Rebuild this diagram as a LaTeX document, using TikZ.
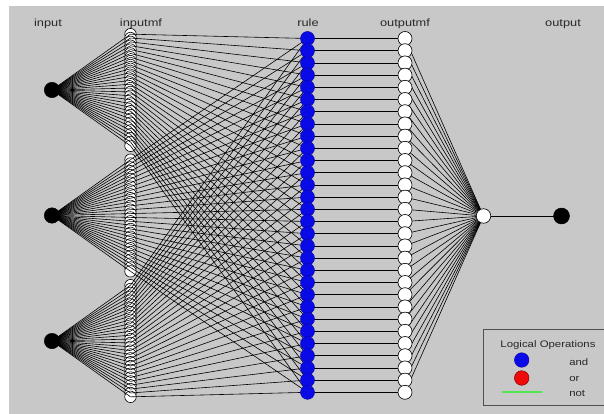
\documentclass[tikz,border=0pt]{standalone}
\usepackage{fontspec}
\setmainfont{Liberation Sans}
\pgfdeclarelayer{back}
\pgfdeclarelayer{bg}
\pgfsetlayers{back,bg,main}
\definecolor{figgray}{RGB}{200,200,200}
\definecolor{ruleblue}{RGB}{10,10,230}
\definecolor{legred}{RGB}{240,10,10}
\definecolor{leggreen}{RGB}{80,230,80}
\definecolor{textgray}{RGB}{40,40,40}
\definecolor{legedge}{RGB}{80,80,80}
\begin{document}
\begin{tikzpicture}[x=1pt,y=-1pt,
  lnk/.style={line width=0.6pt, black},
  blackdot/.style={circle, fill=black, draw=black, inner sep=0pt, minimum size=15.5pt},
  mfdot/.style={circle, fill=white, draw=black, line width=0.6pt, inner sep=0pt, minimum size=11.5pt},
  ruledot/.style={circle, fill=ruleblue, draw=ruleblue!75!black, line width=0.5pt, inner sep=0pt, minimum size=14pt},
  ordot/.style={circle, fill=legred, draw=legred!60!black, line width=0.6pt, inner sep=0pt, minimum size=14pt},
  outdot/.style={circle, fill=white, draw=black, line width=0.6pt, inner sep=0pt, minimum size=14pt},
  lbl/.style={font=\fontsize{10.5}{12}\selectfont, xscale=1.22, text=textgray, anchor=base, inner sep=0pt},
  leglbl/.style={font=\fontsize{9.5}{11}\selectfont, xscale=1.2, text=textgray, anchor=base, inner sep=0pt},
]
\useasboundingbox (0,0) rectangle (604,414);
\begin{pgfonlayer}{back}
  \fill[white] (0,0) rectangle (604,414);
  \fill[figgray] (8.5,6.5) rectangle (604,414);
\end{pgfonlayer}

% input nodes
\foreach \g/\c in {1/90,2/215.5,3/341} {
  \node[blackdot] (in\g) at (52,\c) {};
}
% rules and output mfs
\foreach \r in {1,...,30} {
  \node[ruledot] (r\r) at (307.5,{38.5+(\r-1)*12.2}) {};
  \node[outdot] (omf\r) at (405,{38.5+(\r-1)*12.2}) {};
}
\node[outdot, minimum size=14.5pt] (outn) at (483.5,216) {};
\node[blackdot, minimum size=16pt] (outp) at (561.5,216) {};

\begin{pgfonlayer}{bg}
  % input membership functions
  \foreach \g/\c in {1/90,2/215.5,3/341} {
    \foreach \j in {1,...,30} {
      \node[mfdot] (mf\g-\j) at (130.5,{\c+(\j-15.5)*3.85}) {};
    }
  }
  \foreach \g in {1,2,3} {
    \foreach \j in {1,...,30} {
      \draw[lnk] (in\g.center) -- (mf\g-\j.center);
      \draw[lnk] (mf\g-\j.center) -- (r\j.center);
    }
  }
  \foreach \r in {1,...,30} {
    \draw[lnk] (r\r.center) -- (omf\r.center);
    \draw[lnk] (omf\r.center) -- (outn.center);
  }
  \draw[lnk] (outn.center) -- (outp.center);
\end{pgfonlayer}

% headings
\node[lbl] (tin) at (48,27) {input};
\node[lbl] (tinmf) at (141,27) {inputmf};
\node[lbl] (trule) at (308,27) {rule};
\node[lbl] (toutmf) at (405,27) {outputmf};
\node[lbl] (tout) at (563,27) {output};

% legend
\draw[draw=legedge, fill=figgray, line width=0.8pt] (483,329) rectangle (605,405);
\node[leglbl] (lgtitle) at (548,347) {Logical Operations};
\node[ruledot, minimum size=14.5pt] (lgand) at (521.7,360) {};
\node[ordot, minimum size=14.5pt] (lgor) at (521.7,378) {};
\coordinate (lgn1) at (502,391.7);
\coordinate (lgn2) at (541.7,391.7);
\draw[draw=leggreen, line width=1.6pt] (lgn1) -- (lgn2);
\node[leglbl, anchor=base west] (tand) at (569,365) {and};
\node[leglbl, anchor=base west] (tor) at (569,381.5) {or};
\node[leglbl, anchor=base west] (tnot) at (569,396.5) {not};
\end{tikzpicture}
\end{document}
